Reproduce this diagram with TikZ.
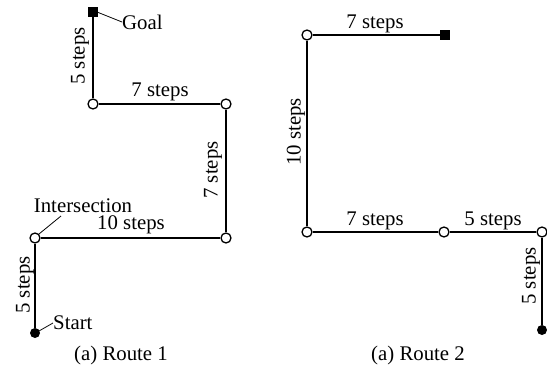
\documentclass[tikz,border=0pt]{standalone}
\usepackage{fontspec}
\setmainfont{Liberation Serif}
\begin{document}
\begin{tikzpicture}[x=1pt,y=-1pt,
  every node/.style={font=\fontsize{20.8}{25}\selectfont},
  lbl/.style={inner sep=0pt},
  opencirc/.style={circle,draw,fill=white,line width=1.3pt,minimum size=10pt,inner sep=0pt},
  fillcirc/.style={circle,fill=black,minimum size=10pt,inner sep=0pt},
  goalsq/.style={rectangle,fill=black,minimum size=10pt,inner sep=0pt},
  path/.style={line width=2pt},
  leader/.style={line width=0.8pt}]
\useasboundingbox (0,0) rectangle (547,372);
% Route 1
\node[goalsq] (g1) at (93,12) {};
\node[opencirc] (a1) at (93,104) {};
\node[opencirc] (b1) at (226,104) {};
\node[opencirc] (c1) at (226,238) {};
\node[opencirc] (i1) at (35,238) {};
\node[fillcirc] (s1) at (35,333) {};
\draw[path] (s1) -- (i1);
\draw[path] (i1) -- (c1);
\draw[path] (c1) -- (b1);
\draw[path] (b1) -- (a1);
\draw[path] (a1) -- (g1);
\node[lbl,anchor=west] (goal) at (122,22) {Goal};
\coordinate (gl1) at (97,12);
\draw[leader] (gl1) -- (goal.west);
\node[lbl,rotate=90] (l1) at (80,56) {5 steps};
\node[lbl] (l2) at (160,92) {7 steps};
\node[lbl,rotate=90] (l3) at (213,170) {7 steps};
\node[lbl] (inter) at (83,206) {Intersection};
\coordinate (il1) at (39,234);
\coordinate (il2) at (61,216);
\draw[leader] (il1) -- (il2);
\node[lbl] (l4) at (131,225) {10 steps};
\node[lbl,rotate=90] (l5) at (25,285) {5 steps};
\node[lbl,anchor=west] (start) at (53,323) {Start};
\coordinate (sl1) at (39,331);
\draw[leader] (sl1) -- (start.west);
\node[lbl] (cap1) at (121,355) {(a) Route 1};
% Route 2
\node[opencirc] (a2) at (307,35) {};
\node[goalsq] (g2) at (445,35) {};
\node[opencirc] (b2) at (307,232) {};
\node[opencirc] (m2) at (444,232) {};
\node[opencirc] (r2) at (542,232) {};
\node[fillcirc] (s2) at (542,330) {};
\draw[path] (s2) -- (r2);
\draw[path] (r2) -- (m2);
\draw[path] (m2) -- (b2);
\draw[path] (b2) -- (a2);
\draw[path] (a2) -- (g2);
\node[lbl] (k1) at (375,24) {7 steps};
\node[lbl,rotate=90] (k2) at (296,132) {10 steps};
\node[lbl] (k3) at (375,221) {7 steps};
\node[lbl] (k4) at (493,221) {5 steps};
\node[lbl,rotate=90] (k5) at (531,276) {5 steps};
\node[lbl] (cap2) at (418,355) {(a) Route 2};
\end{tikzpicture}
\end{document}
